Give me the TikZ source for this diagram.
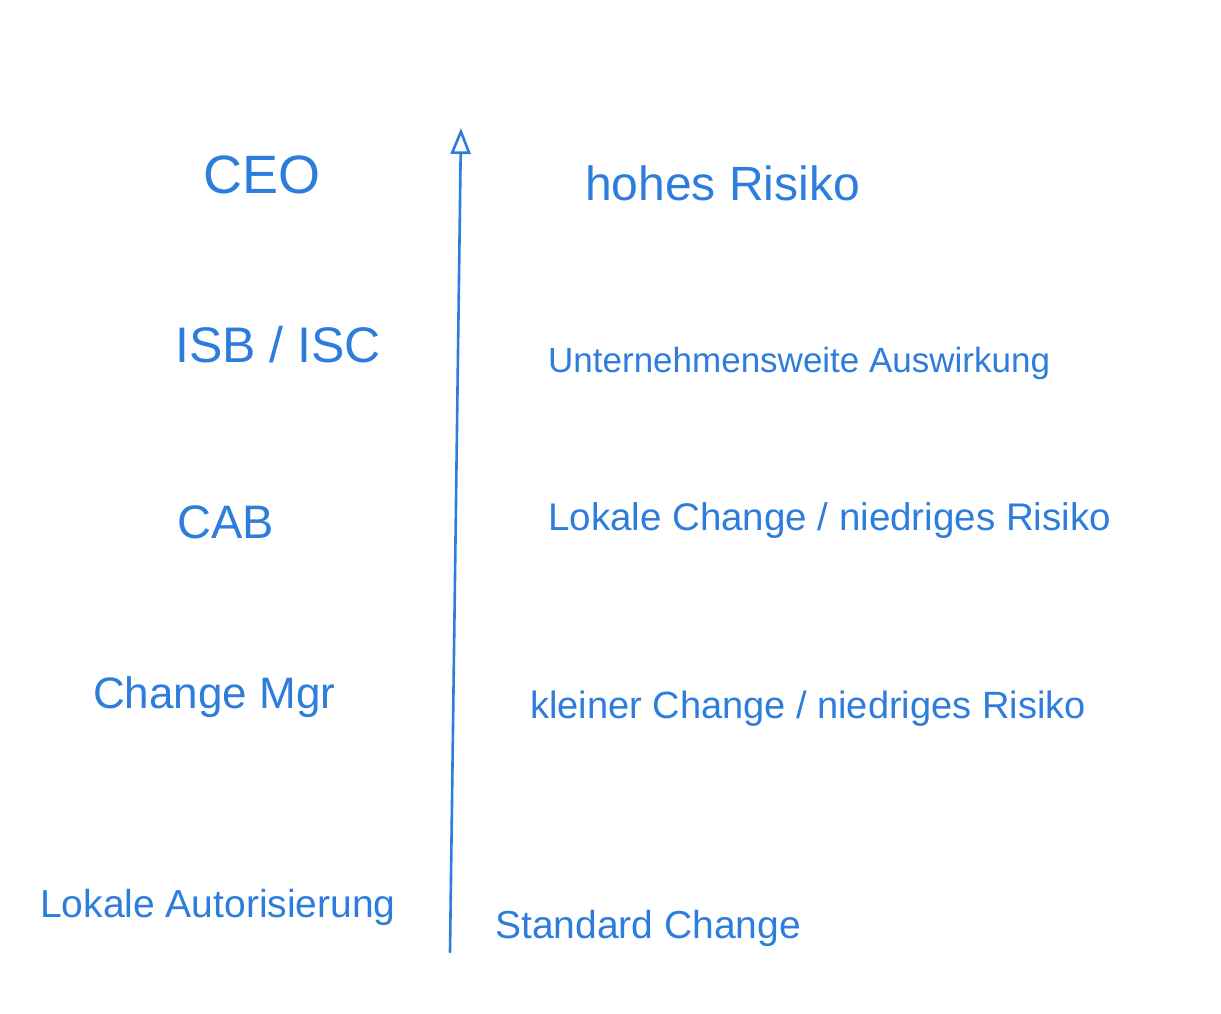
\documentclass[tikz,border=0pt]{standalone}
\usepackage{fontspec}
\setmainfont{Liberation Sans}
\usetikzlibrary{arrows.meta}
\definecolor{ink}{RGB}{45,125,220}
\tikzset{
  lbl/.style={anchor=base west, inner sep=0pt, text=ink},
  axis/.style={draw=ink, line width=2.6pt, line cap=round, -{Triangle[open, length=26pt, width=20pt, line width=2.6pt]}}
}
\newcommand{\fs}[1]{\fontsize{#1}{#1}\selectfont}
\begin{document}
\begin{tikzpicture}[x=1pt,y=-1pt]
\useasboundingbox (0,0) rectangle (1221,1013);
\fill[white] (0,0) rectangle (1221,1013);
% left column
\node[lbl, font=\fs{54}] (ceo) at (203,193) {CEO};
\node[lbl, font=\fs{50}] (isb) at (175,362) {ISB / ISC};
\node[lbl, font=\fs{47}] (cab) at (177,538) {CAB};
\node[lbl, font=\fs{44}] (mgr) at (93,708) {Change Mgr};
\node[lbl, font=\fs{39}] (lok) at (40,917) {Lokale Autorisierung};
% right column
\node[lbl, font=\fs{48}] (hoch) at (585,200) {hohes Risiko};
\node[lbl, font=\fs{35}] (weit) at (548,372) {Unternehmensweite Auswirkung};
\node[lbl, font=\fs{38.5}] (lokal) at (548,530) {Lokale Change / niedriges Risiko};
\node[lbl, font=\fs{38}] (klein) at (530,718) {kleiner Change / niedriges Risiko};
\node[lbl, font=\fs{39}] (std) at (495,938) {Standard Change};
% axis
\coordinate (bot) at (450,952);
\coordinate (top) at (461,128);
\draw[axis] (bot) -- (top);
\end{tikzpicture}
\end{document}
